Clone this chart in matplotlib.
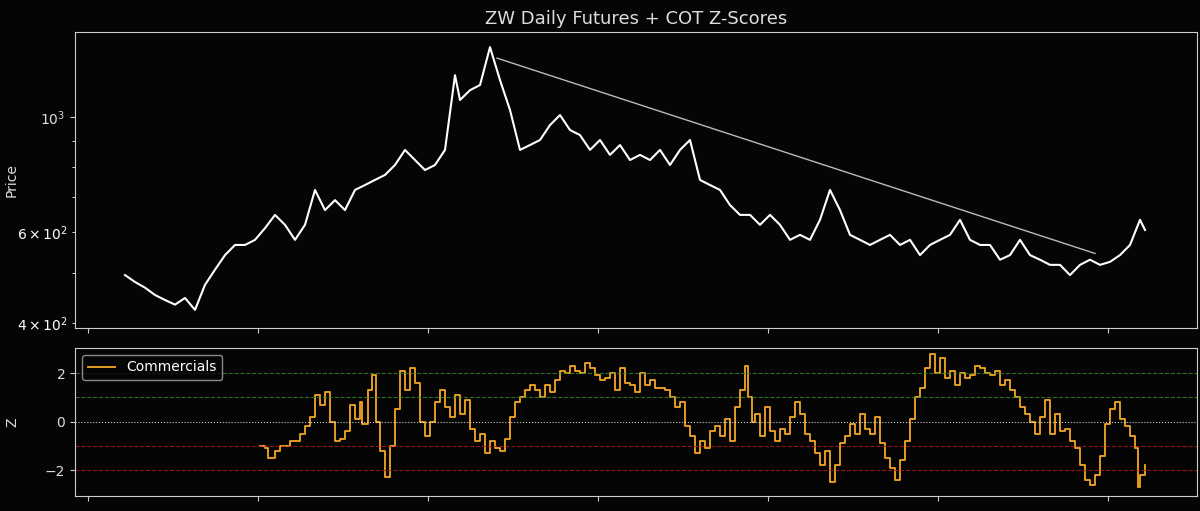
import numpy as np
import matplotlib.pyplot as plt

# price series (x = day position, y = price)
px = [125,135,145,155,165,175,185,195,205,215,225,235,245,255,265,275,285,295,305,315,
      325,335,345,355,365,375,385,395,405,415,425,435,445,455,460,470,480,490,500,510,
      520,530,540,550,560,570,580,590,600,610,620,630,640,650,660,670,680,690,700,710,
      720,730,740,750,760,770,780,790,800,810,820,830,840,850,860,870,880,890,900,910,
      920,930,940,950,960,970,980,990,1000,1010,1020,1030,1040,1050,1060,1070,1080,1090,
      1100,1110,1120,1130,1140,1145]
price = [495,480,468,453,443,434,447,424,474,507,541,566,566,579,610,647,619,579,619,723,
         661,691,661,723,739,756,773,808,864,826,790,808,864,1205,1079,1127,1153,1365,1179,1032,
         864,883,903,965,1009,944,923,864,903,845,883,826,845,826,864,808,864,903,756,739,
         723,676,647,647,619,647,619,579,592,579,633,723,661,592,579,566,579,592,566,579,
         541,566,579,592,633,579,566,566,530,541,579,541,530,518,518,495,518,530,
         518,525,541,566,633,605]

# trendline
trend_x = [497, 1095]
trend_y = [1300, 545]

# commercials z-score
zx = [260,265,268,275,280,290,300,305,310,315,320,325,330,335,340,345,350,355,360,362,
      368,372,376,380,385,390,395,400,405,410,415,420,425,430,435,440,445,450,455,460,
      465,470,475,480,485,490,495,500,505,510,515,520,525,530,535,540,545,550,555,560,
      565,570,575,580,585,590,595,600,605,610,615,620,625,630,635,640,645,650,655,660,
      665,670,675,680,685,690,695,700,705,710,715,720,725,730,735,740,745,748,752,755,
      760,765,770,775,780,785,790,795,800,805,810,815,820,825,830,835,840,845,850,855,
      860,865,870,875,880,885,890,895,900,905,910,915,920,925,930,935,940,945,950,955,
      960,965,970,975,980,985,990,995,1000,1005,1010,1015,1020,1025,1030,1035,1040,1045,1050,1055,
      1060,1065,1070,1075,1080,1085,1090,1095,1100,1105,1110,1115,1120,1125,1130,1135,1138,1140,1145]
zval = [-1.0,-1.1,-1.5,-1.2,-1.0,-0.8,-0.5,-0.2,0.2,1.1,0.7,1.2,0.0,-0.8,-0.7,-0.4,0.7,0.1,0.8,-0.1,
        1.3,1.9,0.0,-1.2,-2.3,-1.0,0.5,2.1,1.3,2.2,1.6,0.0,-0.6,0.0,0.8,1.3,0.6,0.2,1.1,0.3,
        0.9,-0.3,-0.8,-0.5,-1.3,-0.8,-1.1,-1.2,-0.7,0.2,0.8,1.0,1.3,1.5,1.3,1.0,1.5,1.2,1.7,2.1,
        2.0,2.3,2.1,2.0,2.4,2.2,1.9,1.7,1.8,2.0,1.3,2.2,1.6,1.5,1.2,2.0,1.5,1.7,1.4,1.4,
        1.3,1.0,0.6,0.8,-0.2,-0.6,-1.3,-0.8,-1.1,-0.4,-0.2,-0.6,0.1,-0.8,0.6,1.3,2.3,1.0,0.0,0.3,
        -0.6,0.6,-0.4,-0.8,-0.3,-0.5,0.2,0.8,0.3,-0.5,-0.8,-1.3,-1.8,-1.2,-2.5,-1.8,-0.9,-0.6,-0.1,-0.5,
        0.3,-0.3,-0.5,0.2,-0.9,-1.5,-1.9,-2.4,-1.6,-0.8,0.1,1.0,1.4,2.2,2.8,2.0,2.6,1.8,2.1,1.5,
        2.0,1.8,1.9,2.3,2.2,2.0,1.9,2.1,1.5,1.7,1.3,1.0,0.6,0.3,0.0,-0.5,0.2,0.9,-0.5,0.3,
        -0.4,-0.3,-0.8,-1.1,-1.8,-2.4,-2.6,-2.2,-1.4,-0.1,0.5,0.8,0.1,-0.2,-0.6,-1.1,-2.7,-2.2,-1.8]

plt.style.use('dark_background')
fig = plt.figure(figsize=(12, 5.11), dpi=100, facecolor='#050505')
ax1 = fig.add_axes([0.0625, 0.358, 0.935, 0.579], facecolor='#050505')
ax2 = fig.add_axes([0.0625, 0.029, 0.935, 0.290], facecolor='#050505', sharex=ax1)

ax1.plot(px, price, color='white', lw=1.5)
ax1.plot(trend_x, trend_y, color='#bbbbbb', lw=1)
ax1.set_yscale('log')
ax1.set_ylim(391, 1459)
ax1.set_ylabel('Price', color='#dddddd')
ax1.yaxis.set_label_coords(-0.05, 0.5)
ax1.set_title('ZW Daily Futures + COT Z-Scores', fontsize=13, color='#dddddd')

ax2.step(zx, zval, where='post', color='#f5a623', lw=1.3, label='Commercials')
for lvl, c, ls in [(2, '#3a8a2a', '--'), (1, '#3a8a2a', '--'), (0, 'white', ':'),
                   (-1, '#b71c1c', '--'), (-2, '#b71c1c', '--')]:
    ax2.axhline(lvl, color=c, ls=ls, lw=0.8, alpha=0.8)
ax2.set_ylim(-3.07, 3.03)
ax2.set_yticks([-2, 0, 2])
ax2.set_ylabel('Z', color='#dddddd')
ax2.yaxis.set_label_coords(-0.05, 0.5)
ax2.legend(loc='upper left', facecolor='#050505', edgecolor='#aaaaaa')

ax1.set_xlim(75, 1197)
ax1.set_xticks(np.arange(88, 1197, 170))
ax1.tick_params(labelbottom=False)
ax2.tick_params(labelbottom=False)
for ax in (ax1, ax2):
    ax.tick_params(colors='#cccccc', labelcolor='#dddddd')
    for s in ax.spines.values():
        s.set_color('#cccccc')

fig.savefig('out.png', facecolor=fig.get_facecolor())
